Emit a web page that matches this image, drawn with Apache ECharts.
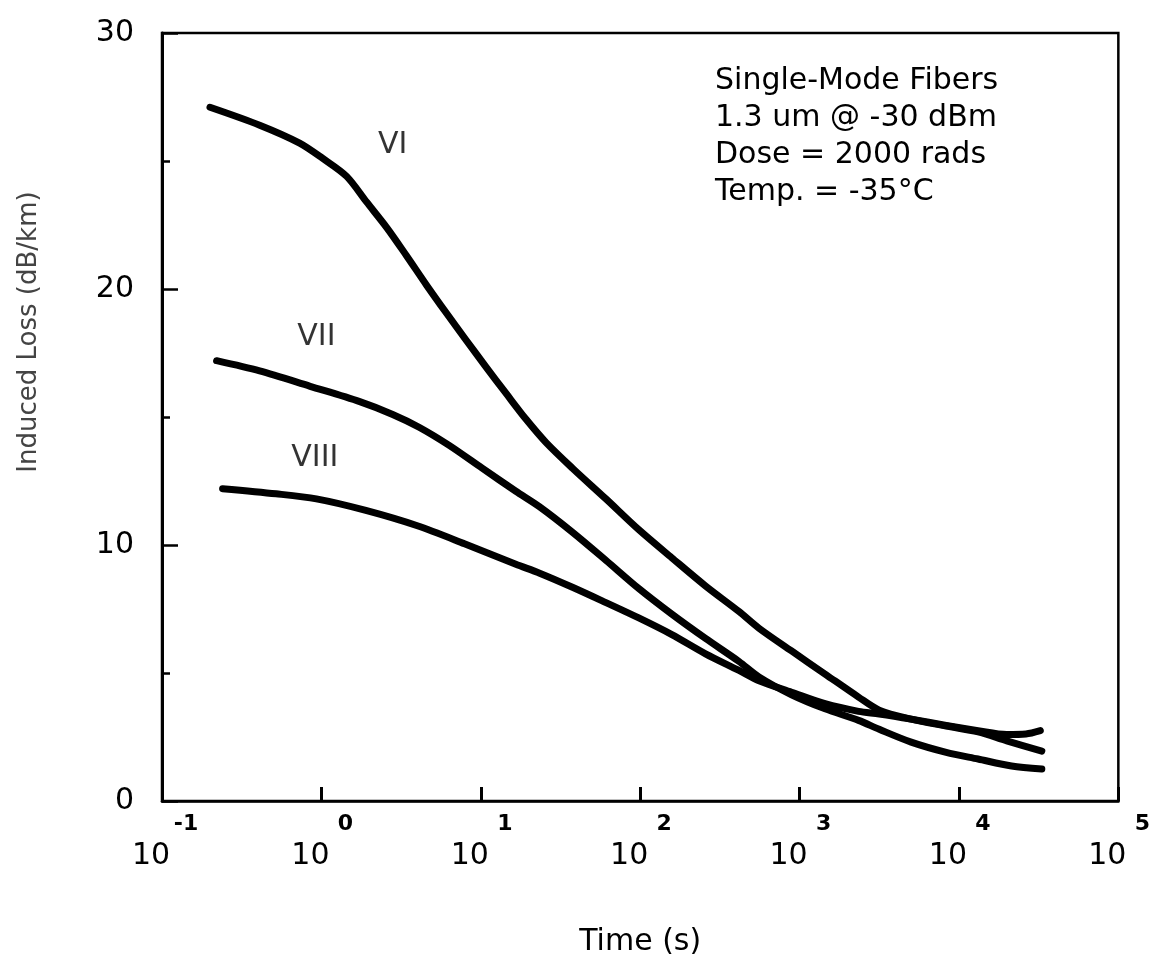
<!DOCTYPE html>
<html>
<head>
<meta charset="utf-8">
<title>Induced Loss vs Time</title>
<script src="https://cdn.jsdelivr.net/npm/echarts@6/dist/echarts.min.js"></script>
<style>
  html, body { margin: 0; padding: 0; background: #fff; }
  #chart { width: 1153px; height: 969px; }
</style>
</head>
<body>
<div id="chart"></div>
<script>
// time in seconds, loss in dB/km
var timeVI = [0.2, 0.41, 0.73, 1.02, 1.44, 1.92, 2.57, 3.42, 4.57, 6.1, 8.1, 10.8, 14.5, 19.3, 25.7, 37.6, 61, 98, 158, 257, 417, 556, 891, 1445, 2344, 3162, 5012, 8318, 13180, 19950, 33110];
var lossVI = [27.1, 26.4, 25.7, 25.1, 24.4, 23.4, 22.4, 21.3, 20.15, 19.05, 18.0, 16.95, 15.9, 14.9, 14.0, 13.0, 11.8, 10.6, 9.5, 8.4, 7.4, 6.75, 5.86, 4.96, 4.06, 3.55, 3.2, 2.93, 2.7, 2.35, 1.95];

var timeVII = [0.22, 0.41, 0.85, 1.74, 2.8, 4.1, 6.3, 10.2, 16.6, 23.3, 37.6, 61, 98, 158, 257, 417, 556, 891, 1445, 2344, 3162, 5012, 8318, 13180, 21380, 33110];
var lossVII = [17.2, 16.8, 16.2, 15.6, 15.1, 14.6, 13.9, 13.0, 12.1, 11.5, 10.5, 9.4, 8.3, 7.3, 6.35, 5.45, 4.85, 4.15, 3.6, 3.15, 2.8, 2.3, 1.9, 1.64, 1.37, 1.25];

var timeVIII = [0.24, 0.52, 0.93, 1.9, 4.0, 7.9, 16.6, 23.4, 37.6, 61, 98, 158, 257, 417, 556, 891, 1445, 2344, 3162, 5012, 8318, 13180, 19950, 26300, 32400];
var lossVIII = [12.2, 12.0, 11.8, 11.35, 10.75, 10.05, 9.25, 8.9, 8.35, 7.75, 7.15, 6.5, 5.75, 5.1, 4.7, 4.25, 3.8, 3.5, 3.4, 3.2, 2.95, 2.75, 2.6, 2.62, 2.75];

var curveNames = ['VI', 'VII', 'VIII'];
var curveLabelTime = [2.8, 0.93, 0.91];
var curveLabelLoss = [25.6, 18.1, 13.4];

var noteLines = ['Single-Mode Fibers', '1.3 um @ -30 dBm', 'Dose = 2000 rads', 'Temp. = -35\u00B0C'];

var FONT = '"DejaVu Sans", "Liberation Sans", sans-serif';

function zip(xs, ys) {
  var out = [];
  for (var i = 0; i < xs.length; i++) out.push([xs[i], ys[i]]);
  return out;
}

function curve(name, xs, ys) {
  return {
    name: name,
    type: 'line',
    data: zip(xs, ys),
    smooth: 0.3,
    showSymbol: false,
    lineStyle: { color: '#000', width: 7, cap: 'round', join: 'round' },
    z: 3
  };
}

var labelData = [];
for (var i = 0; i < curveNames.length; i++) {
  labelData.push({ value: [curveLabelTime[i], curveLabelLoss[i]], name: curveNames[i] });
}

var chart = echarts.init(document.getElementById('chart'));

var option = {
  animation: false,
  backgroundColor: '#fff',
  grid: {
    left: 162, right: 33, top: 33, bottom: 168,
    show: true, borderColor: '#000', borderWidth: 2.5,
    backgroundColor: 'transparent'
  },
  xAxis: {
    type: 'log',
    logBase: 10,
    min: 0.1,
    max: 100000,
    name: 'Time (s)',
    nameLocation: 'middle',
    nameGap: 126,
    nameTextStyle: { fontFamily: FONT, fontSize: 30, color: '#000' },
    axisLine: { lineStyle: { color: '#000', width: 2.5 } },
    axisTick: { inside: true, length: 14, lineStyle: { color: '#000', width: 3 } },
    splitLine: { show: false },
    axisLabel: {
      margin: 8,
      showMinLabel: true,
      showMaxLabel: true,
      formatter: function (v) {
        var e = Math.round(Math.log(v) / Math.LN10);
        return '{e|' + e + '}\n{b|10}';
      },
      rich: {
        e: { fontFamily: FONT, fontSize: 22, fontWeight: 'bold', color: '#000', lineHeight: 30, padding: [0, 0, 0, 48] },
        b: { fontFamily: FONT, fontSize: 30, color: '#000', lineHeight: 34, padding: [0, 22, 0, 0] }
      }
    }
  },
  yAxis: {
    type: 'value',
    min: 0,
    max: 30,
    interval: 10,
    name: 'Induced Loss (dB/km)',
    nameLocation: 'middle',
    nameGap: 120,
    nameTextStyle: { fontFamily: FONT, fontSize: 26, color: '#444', padding: [0, 0, 0, 170] },
    axisLine: { show: true, lineStyle: { color: '#000', width: 3 } },
    axisTick: { inside: true, length: 16, lineStyle: { color: '#000', width: 2.5 } },
    minorTick: { show: true, splitNumber: 2, length: 8, lineStyle: { color: '#000', width: 2.5 } },
    splitLine: { show: false },
    axisLabel: {
      margin: 28,
      fontFamily: FONT,
      fontSize: 30,
      color: '#000',
      padding: [0, 0, 26, 0]
    }
  },
  series: [
    curve('VI', timeVI, lossVI),
    curve('VII', timeVII, lossVII),
    curve('VIII', timeVIII, lossVIII),
    {
      type: 'scatter',
      data: labelData,
      symbolSize: 0,
      silent: true,
      label: {
        show: true,
        position: 'inside',
        formatter: '{b}',
        fontFamily: FONT,
        fontSize: 30,
        color: '#000',
        textBorderWidth: 0
      }
    }
  ],
  graphic: [{
    type: 'text',
    left: 715,
    top: 63,
    style: {
      text: noteLines.join('\n'),
      font: '30px ' + FONT,
      lineHeight: 37,
      fill: '#000'
    }
  }]
};

chart.setOption(option);
</script>
</body>
</html>
